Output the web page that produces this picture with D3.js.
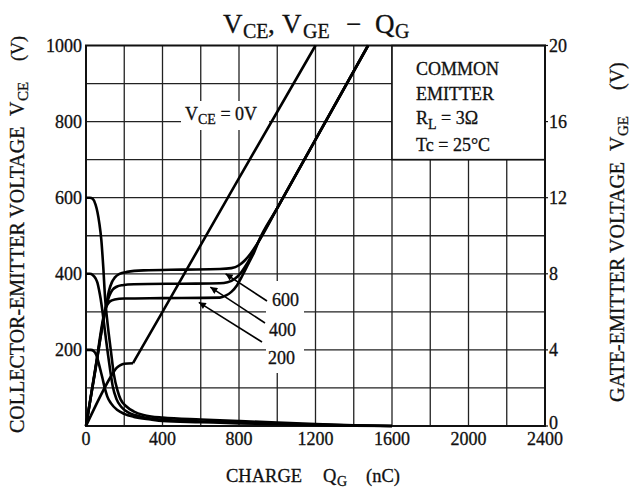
<!DOCTYPE html>
<html><head><meta charset="utf-8">
<script src="https://cdn.jsdelivr.net/npm/d3@7"></script>
<style>
html,body{margin:0;padding:0;background:#fff;}
text{font-family:"Liberation Serif","Times New Roman",serif;fill:#111;stroke:#111;stroke-width:0.3;}
</style></head>
<body>
<svg id="chart" width="636" height="490"></svg>
<script>
// ---- data ----
const qTicks = [0, 400, 800, 1200, 1600, 2000, 2400];
const vceTicks = [200, 400, 600, 800, 1000];
const vgeTicks = [0, 4, 8, 12, 16, 20];
const seriesNames = ["600", "400", "200"];

// collector-emitter voltage curves [QG nC, VCE V]
const vce600 = [[0,600],[20,600],[35,597],[50,582],[60,562],[70,532],[80,490],[90,420],[100,335],[110,282],[120,238],[130,198],[146,135],[165,93],[181,70],[210,52],[251,38],[300,29],[340,25],[400,22],[600,17],[800,13],[1000,9],[1200,5],[1400,2],[1600,0]];
const vce400 = [[0,400],[20,400],[35,397],[50,388],[60,376],[68,358],[77,333],[85,305],[95,266],[105,226],[115,188],[125,152],[140,104],[160,70],[185,50],[220,36],[260,28],[320,21],[400,16],[600,12],[800,9],[1000,6],[1200,3.5],[1400,1.5],[1600,0]];
const vce200 = [[0,200],[25,200],[40,197],[55,185],[65,168],[75,148],[85,128],[98,100],[111,78],[130,60],[164,42],[200,32],[251,24],[338,17],[400,13],[600,10],[800,7],[1000,4.5],[1200,2.5],[1400,1],[1600,0]];

// gate-emitter voltage curves [QG nC, VGE V]
const vge600 = [[0,0],[50,3.05],[100,6.1],[110,6.6],[120,7.1],[135,7.55],[150,7.8],[175,8.0],[215,8.1],[300,8.18],[500,8.22],[700,8.25],[760,8.3],[800,8.45],[830,8.7],[860,9.05],[900,9.65],[1000,11.45],[1200,15.05],[1475,20]];
const vge400 = [[0,0],[50,3.0],[100,6.0],[110,6.45],[122,6.85],[138,7.15],[160,7.32],[190,7.4],[250,7.45],[500,7.48],[700,7.5],[740,7.55],[780,7.75],[810,8.05],[840,8.5],[870,9.05],[900,9.65],[1000,11.45],[1200,15.05],[1475,20]];
const vge200 = [[0,0],[50,3.1],[100,6.1],[110,6.35],[125,6.55],[150,6.65],[200,6.7],[400,6.72],[700,6.75],[730,6.85],[760,7.05],[790,7.4],[820,7.95],[850,8.55],[880,9.15],[900,9.65],[1000,11.45],[1200,15.05],[1475,20]];
const vge0 = [[0,0],[130,2.6],[145,2.85],[160,3.05],[180,3.2],[200,3.27],[246,3.3],[260,3.55],[400,6.0],[800,13.03],[1200,20]];

// ---- layout ----
const svg = d3.select("#chart");
const L = 86, R = 545, T = 45.5, B = 426;
const x = d3.scaleLinear().domain([0, 2400]).range([L, R]);
const y = d3.scaleLinear().domain([0, 1000]).range([B, T]);
const y2 = d3.scaleLinear().domain([0, 20]).range([B, T]);

// grid
const g = svg.append("g");
g.selectAll("line.v").data(d3.range(200, 2400, 200)).join("line")
  .attr("x1", d => x(d)).attr("x2", d => x(d)).attr("y1", y(0)).attr("y2", y(1000))
  .attr("stroke", "#222").attr("stroke-width", 1.3);
g.selectAll("line.h").data(d3.range(100, 1000, 100)).join("line")
  .attr("x1", x(0)).attr("x2", x(2400)).attr("y1", d => y(d)).attr("y2", d => y(d))
  .attr("stroke", "#222").attr("stroke-width", 1.3);

// white label backgrounds
svg.append("rect").attr("x", 181).attr("y", 101).attr("width", 88).attr("height", 29).attr("fill", "#fff");
svg.append("rect").attr("x", 266).attr("y", 281).attr("width", 38).attr("height", 92).attr("fill", "#fff");

// legend box
svg.append("rect").attr("x", x(1600)).attr("y", y(1000)).attr("width", x(2400) - x(1600)).attr("height", y(700) - y(1000))
  .attr("fill", "#fff").attr("stroke", "#111").attr("stroke-width", 1.6);

// frame
svg.append("rect").attr("x", L).attr("y", T).attr("width", R - L).attr("height", B - T)
  .attr("fill", "none").attr("stroke", "#111").attr("stroke-width", 2);

// right ticks
svg.selectAll("line.rt").data(vgeTicks).join("line")
  .attr("x1", R).attr("x2", R + 3).attr("y1", d => y2(d)).attr("y2", d => y2(d))
  .attr("stroke", "#111").attr("stroke-width", 1.2);

// curves
const lineV = d3.line().x(d => x(d[0])).y(d => y(d[1])).curve(d3.curveMonotoneX);
const lineG = d3.line().x(d => x(d[0])).y(d => y2(d[1])).curve(d3.curveMonotoneX);
const curves = svg.append("g").attr("fill", "none").attr("stroke", "#000").attr("stroke-width", 2.6).attr("stroke-linejoin", "round");
[vce600, vce400, vce200].forEach(s => curves.append("path").attr("d", lineV(s)));
[vge600, vge400, vge200].forEach(s => curves.append("path").attr("d", lineG(s)));
curves.append("path").attr("d", d3.line().x(d => x(d[0])).y(d => y2(d[1])).curve(d3.curveLinear)(vge0.slice(6)));
curves.append("path").attr("d", lineG(vge0.slice(0, 7)));

// tick labels
const tl = svg.append("g").attr("font-size", 18);
tl.selectAll("text.x").data(qTicks).join("text")
  .attr("x", d => x(d)).attr("y", 445).attr("text-anchor", "middle").text(d => d);
tl.selectAll("text.yl").data(vceTicks).join("text")
  .attr("x", 82).attr("y", d => y(d) + 6).attr("text-anchor", "end").text(d => d);
tl.selectAll("text.yr").data(vgeTicks).join("text")
  .attr("x", 549).attr("y", d => y2(d) + (d === 0 ? 3 : 6)).attr("text-anchor", "start").text(d => d);

// arrows
const defs = svg.append("defs");
defs.append("marker").attr("id", "ah").attr("viewBox", "0 0 10 10").attr("refX", 10).attr("refY", 5)
  .attr("markerWidth", 11).attr("markerHeight", 7).attr("markerUnits", "userSpaceOnUse").attr("orient", "auto")
  .append("path").attr("d", "M0,0L10,5L0,10Z").attr("fill", "#000");
const arrowSpec = [
  {name: seriesNames[0], q: 730, v: 400, lx: 267, ly: 301, tx: 272, ty: 306},
  {name: seriesNames[1], q: 650, v: 365, lx: 265, ly: 323, tx: 269, ty: 336},
  {name: seriesNames[2], q: 590, v: 325, lx: 262, ly: 342, tx: 268, ty: 364}
];
arrowSpec.forEach(a => {
  svg.append("line").attr("x1", a.lx).attr("y1", a.ly).attr("x2", x(a.q)).attr("y2", y(a.v))
    .attr("stroke", "#000").attr("stroke-width", 1.6).attr("marker-end", "url(#ah)");
  svg.append("text").attr("x", a.tx).attr("y", a.ty).attr("font-size", 18).text(a.name);
});

// VCE=0V label
const l0 = svg.append("text").attr("x", 185).attr("y", 120).attr("font-size", 18);
l0.append("tspan").text("V");
l0.append("tspan").attr("dy", 4).attr("font-size", 14).text("CE");
l0.append("tspan").attr("dy", -4).text(" = 0V");

// legend text
const lg = svg.append("g").attr("font-size", 18);
lg.append("text").attr("x", 416).attr("y", 75).text("COMMON");
lg.append("text").attr("x", 416).attr("y", 100).text("EMITTER");
const rl = lg.append("text").attr("x", 416).attr("y", 124);
rl.append("tspan").text("R");
rl.append("tspan").attr("dy", 5).attr("font-size", 14).text("L");
rl.append("tspan").attr("dy", -5).text(" = 3Ω");
lg.append("text").attr("x", 416).attr("y", 151).text("Tc = 25°C");

// title
const tt = svg.append("text").attr("y", 33).attr("font-size", 27);
tt.append("tspan").attr("x", 223).text("V");
tt.append("tspan").attr("x", 243).attr("dy", 5).attr("font-size", 20).text("CE");
tt.append("tspan").attr("x", 268).attr("dy", -5).text(",");
tt.append("tspan").attr("x", 282).text("V");
tt.append("tspan").attr("x", 303).attr("dy", 5).attr("font-size", 20).text("GE");
tt.append("tspan").attr("x", 346).attr("dy", -5).text("−");
tt.append("tspan").attr("x", 375).text("Q");
tt.append("tspan").attr("x", 395).attr("dy", 5).attr("font-size", 20).text("G");

// x axis title
const xt = svg.append("text").attr("y", 482).attr("font-size", 18.5);
xt.append("tspan").attr("x", 226).text("CHARGE");
xt.append("tspan").attr("x", 323).text("Q");
xt.append("tspan").attr("x", 337).attr("dy", 4).attr("font-size", 14).text("G");
xt.append("tspan").attr("x", 366).attr("dy", -4).text("(nC)");

// left axis title (rotated: tspan x = -pageY)
const yl = svg.append("text").attr("transform", "translate(24,0) rotate(-90)").attr("font-size", 20);
yl.append("tspan").attr("x", -433).text("COLLECTOR-EMITTER VOLTAGE");
yl.append("tspan").attr("x", -116).text("V");
yl.append("tspan").attr("x", -101).attr("dy", 4).attr("font-size", 15).text("CE");
yl.append("tspan").attr("x", -61).attr("dy", -4).attr("font-size", 18).text("(V)");

// right axis title
const yr = svg.append("text").attr("transform", "translate(624,0) rotate(-90)").attr("font-size", 20);
yr.append("tspan").attr("x", -402).text("GATE-EMITTER VOLTAGE");
yr.append("tspan").attr("x", -151).text("V");
yr.append("tspan").attr("x", -136).attr("dy", 4).attr("font-size", 15).text("GE");
yr.append("tspan").attr("x", -90).attr("dy", -4).text("(V)");
</script>
</body></html>
